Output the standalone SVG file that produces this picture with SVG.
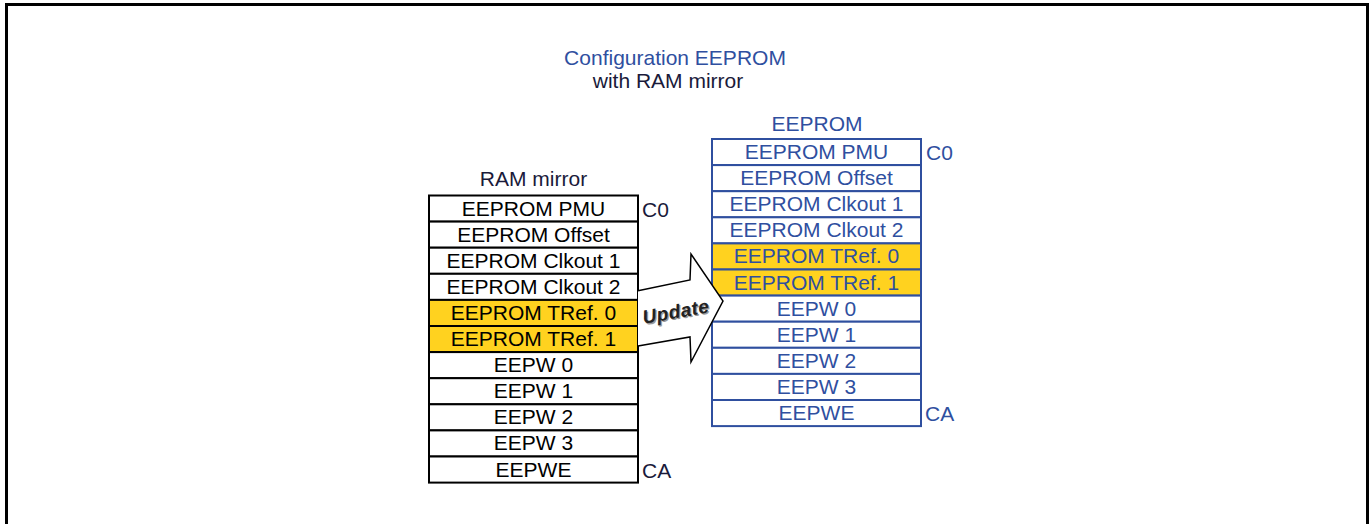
<svg xmlns="http://www.w3.org/2000/svg" width="1371" height="524" viewBox="0 0 1371 524">
<style>
text{font-family:"Liberation Sans",Arial,sans-serif}
.cell{stroke-width:2}
.lc{fill:#fff;stroke:#000}
.ly{fill:#FFD21F;stroke:#000}
.rc{fill:#fff;stroke:#2F4F9F}
.ry{fill:#FFD21F;stroke:#2F4F9F}
.lt{font-size:21px;fill:#000;text-anchor:middle}
.rt{font-size:21px;fill:#2F4F9F;text-anchor:middle}
.nav{font-size:21px;fill:#1a1a3a}
.blu{font-size:21px;fill:#2F4F9F}
</style>
<rect x="6.5" y="4.5" width="1361" height="530" fill="#fff" stroke="#000" stroke-width="3"/>
<g id="title">
<text class="blu" x="675" y="65" text-anchor="middle">Configuration EEPROM</text>
<text class="nav" x="668" y="88" text-anchor="middle">with RAM mirror</text>
</g>
<g id="ram-mirror">
<text class="nav" x="533.5" y="186" text-anchor="middle">RAM mirror</text>
<rect class="cell lc" x="429" y="195.5" width="209" height="26.1"/>
<rect class="cell lc" x="429" y="221.6" width="209" height="26.1"/>
<rect class="cell lc" x="429" y="247.7" width="209" height="26.1"/>
<rect class="cell lc" x="429" y="273.8" width="209" height="26.1"/>
<rect class="cell ly" x="429" y="299.9" width="209" height="26.1"/>
<rect class="cell ly" x="429" y="326" width="209" height="26.1"/>
<rect class="cell lc" x="429" y="352.1" width="209" height="26.1"/>
<rect class="cell lc" x="429" y="378.2" width="209" height="26.1"/>
<rect class="cell lc" x="429" y="404.3" width="209" height="26.1"/>
<rect class="cell lc" x="429" y="430.4" width="209" height="26.1"/>
<rect class="cell lc" x="429" y="456.5" width="209" height="26.1"/>
<text class="lt" x="533.5" y="215.5">EEPROM PMU</text>
<text class="lt" x="533.5" y="241.6">EEPROM Offset</text>
<text class="lt" x="533.5" y="267.7">EEPROM Clkout 1</text>
<text class="lt" x="533.5" y="293.8">EEPROM Clkout 2</text>
<text class="lt" x="533.5" y="319.9">EEPROM TRef. 0</text>
<text class="lt" x="533.5" y="346">EEPROM TRef. 1</text>
<text class="lt" x="533.5" y="372.1">EEPW 0</text>
<text class="lt" x="533.5" y="398.2">EEPW 1</text>
<text class="lt" x="533.5" y="424.3">EEPW 2</text>
<text class="lt" x="533.5" y="450.4">EEPW 3</text>
<text class="lt" x="533.5" y="476.5">EEPWE</text>
<text class="nav" x="642" y="217">C0</text>
<text class="nav" x="642" y="478">CA</text>
</g>
<g id="eeprom">
<text class="blu" x="817" y="131" text-anchor="middle">EEPROM</text>
<rect class="cell rc" x="712" y="139" width="209" height="26.1"/>
<rect class="cell rc" x="712" y="165.1" width="209" height="26.1"/>
<rect class="cell rc" x="712" y="191.2" width="209" height="26.1"/>
<rect class="cell rc" x="712" y="217.3" width="209" height="26.1"/>
<rect class="cell ry" x="712" y="243.4" width="209" height="26.1"/>
<rect class="cell ry" x="712" y="269.5" width="209" height="26.1"/>
<rect class="cell rc" x="712" y="295.6" width="209" height="26.1"/>
<rect class="cell rc" x="712" y="321.7" width="209" height="26.1"/>
<rect class="cell rc" x="712" y="347.8" width="209" height="26.1"/>
<rect class="cell rc" x="712" y="373.9" width="209" height="26.1"/>
<rect class="cell rc" x="712" y="400" width="209" height="26.1"/>
<text class="rt" x="816.5" y="159">EEPROM PMU</text>
<text class="rt" x="816.5" y="185.1">EEPROM Offset</text>
<text class="rt" x="816.5" y="211.2">EEPROM Clkout 1</text>
<text class="rt" x="816.5" y="237.3">EEPROM Clkout 2</text>
<text class="rt" x="816.5" y="263.4">EEPROM TRef. 0</text>
<text class="rt" x="816.5" y="289.5">EEPROM TRef. 1</text>
<text class="rt" x="816.5" y="315.6">EEPW 0</text>
<text class="rt" x="816.5" y="341.7">EEPW 1</text>
<text class="rt" x="816.5" y="367.8">EEPW 2</text>
<text class="rt" x="816.5" y="393.9">EEPW 3</text>
<text class="rt" x="816.5" y="420">EEPWE</text>
<text class="blu" x="926" y="160">C0</text>
<text class="blu" x="925" y="421">CA</text>
</g>
<g id="connectors">
<polygon points="638,290.7 690,280 691,254 723,301 691,362 690,337 638,346" fill="#fff" stroke="none"/>
<polyline points="638,290.7 690,280 691,254 723,301 691,362 690,337 638,346" fill="none" stroke="#000" stroke-width="1.5" stroke-linejoin="miter"/>
<g transform="translate(677,318) rotate(-10)">
<text x="1" y="1.5" text-anchor="middle" font-size="19" font-weight="bold" font-style="italic" letter-spacing="0.5" fill="#999">Update</text>
<text x="0" y="0" text-anchor="middle" font-size="19" font-weight="bold" font-style="italic" letter-spacing="0.5" fill="#222">Update</text>
</g>
</g>
</svg>
